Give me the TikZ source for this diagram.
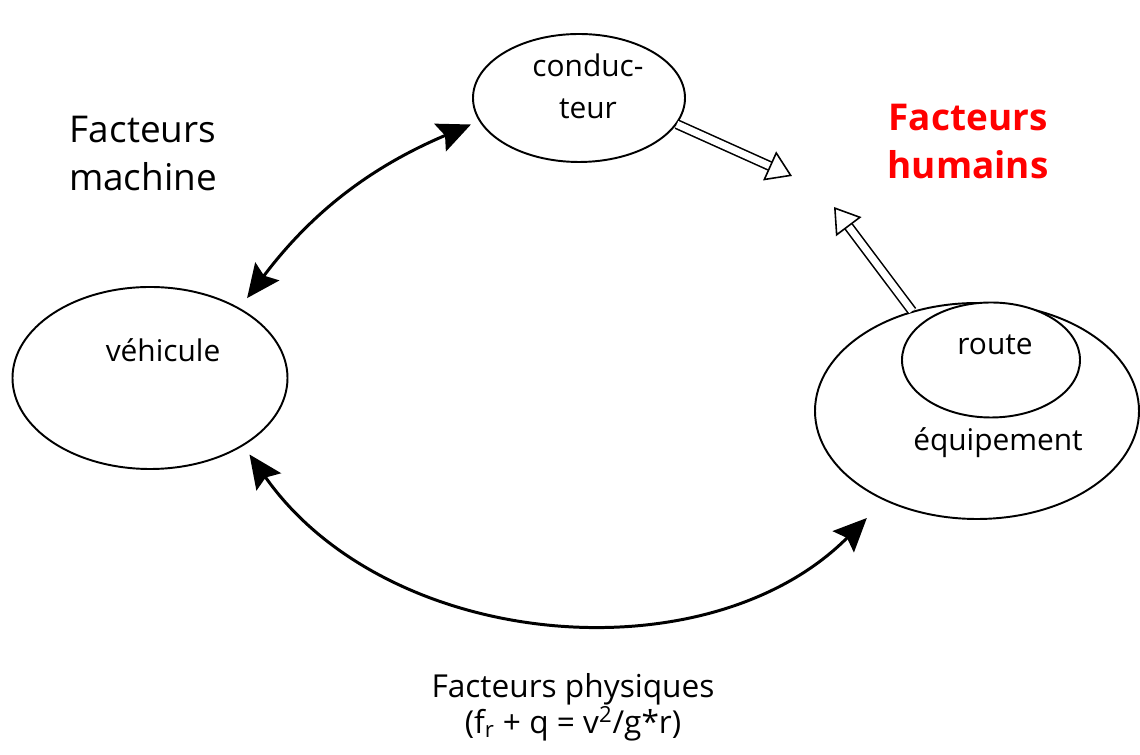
\documentclass[tikz,border=0pt]{standalone}
\usepackage{fontspec}
\setmainfont{Open Sans}
\usepackage{tikz}
\usetikzlibrary{calc, positioning}
\usetikzlibrary{shapes, arrows.meta}
\tikzset{
    blob/.style={ellipse, draw, line width=1.1pt, inner sep=0pt},% the ovals
    txt/.style={font=\fontsize{17}{24}\selectfont, align=center},
    big/.style={font=\fontsize{21}{27}\selectfont, align=center},
    link/.style={line width=1.7pt, {Stealth[length=19pt,width=17pt,inset=3pt]}-{Stealth[length=19pt,width=17pt,inset=3pt]}},
    hollow/.style={double, double distance=4pt, line width=0.9pt, -{Triangle[open, length=14pt, width=18pt]}},
}

\begin{document}
\begin{tikzpicture}
    \useasboundingbox (0,0) rectangle (22.8,15.1);

    % ovals
    \node[blob, minimum width=4.24cm, minimum height=2.56cm] (cond) at (11.58,13.14) {};
    \node[blob, minimum width=5.5cm, minimum height=3.64cm] (veh) at (3.0,7.54) {};
    \node[blob, minimum width=6.48cm, minimum height=4.32cm] (equip) at (19.54,6.88) {};
    \node[blob, fill=white, minimum width=3.56cm, minimum height=2.3cm] (route) at (19.82,7.9) {};

    \node[txt] (condtxt) at (11.76,13.37) {conduc-\\teur};
    \node[txt] (vehtxt) at (3.26,8.1) {véhicule};
    \node[txt] (routetxt) at (19.9,8.2) {route};
    \node[txt] (equiptxt) at (19.96,6.24) {équipement};

    % labels
    \node[big] (machine) at (2.86,12.03) {Facteurs\\machine};
    \node[big, text=red, font=\fontsize{21}{27}\selectfont\bfseries] (humains) at (19.36,12.27) {Facteurs\\humains};
    \node[txt, font=\fontsize{18}{18.5}\selectfont] (physiques) at (11.46,0.96) {Facteurs physiques\\(f\textsubscript{r} + q = v\textsuperscript{2}/g*r)};

    % arrows
    \draw[link, shorten <=5pt, shorten >=7pt] (cond.193) to[bend right=15] (veh.38);
    \draw[link, shorten <=6pt, shorten >=14pt] (veh.-36) to[bend right=50] (equip.224);

    \coordinate (humA) at (15.84,11.58);
    \coordinate (humB) at (16.68,10.96);
    \draw[hollow] (cond.-15) -- (humA);
    \draw[hollow] (equip.123) -- (humB);
\end{tikzpicture}
\end{document}
